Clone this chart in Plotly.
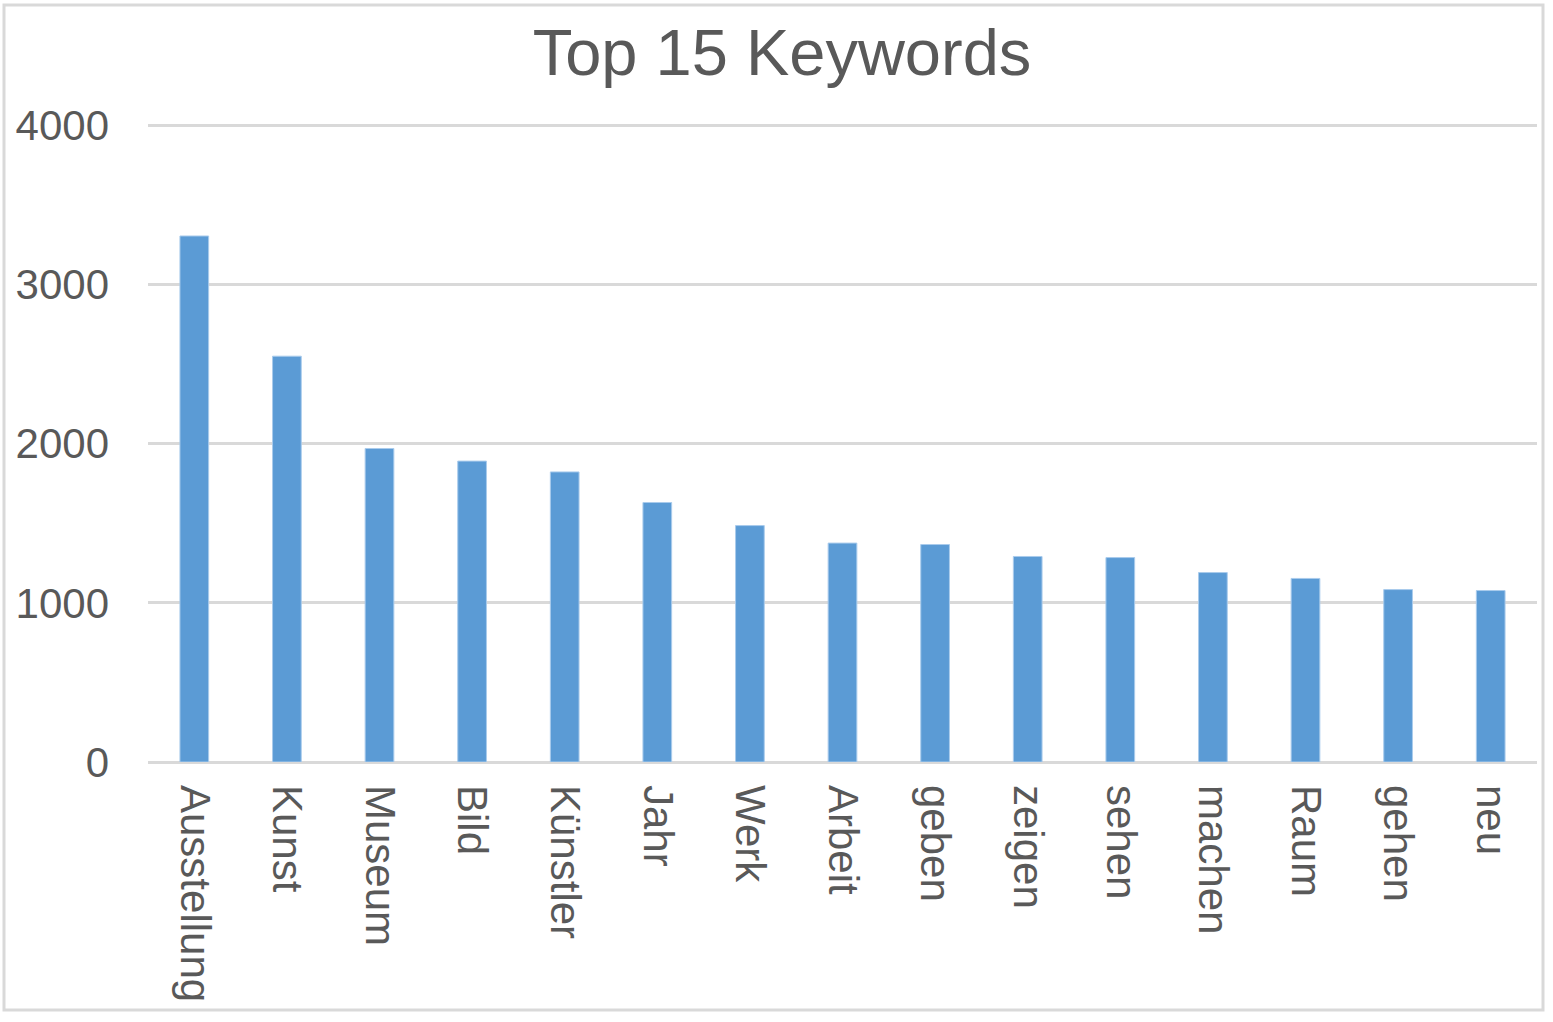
import plotly.graph_objects as go

keywords = ["Ausstellung", "Kunst", "Museum", "Bild", "Künstler", "Jahr", "Werk",
            "Arbeit", "geben", "zeigen", "sehen", "machen", "Raum", "gehen", "neu"]
counts = [3304, 2549, 1969, 1890, 1822, 1630, 1485, 1375, 1366, 1291, 1284, 1190, 1153, 1083, 1077]
y_ticks = [0, 1000, 2000, 3000, 4000]

W, H = 1553, 1022
ML, MR, MT, MB = 148, 16, 122, 260
FONT = "Liberation Sans, Arial, Helvetica, sans-serif"
GREY = "#595959"
GRID = "#d9d9d9"

fig = go.Figure(go.Bar(
    x=keywords, y=counts,
    marker=dict(color="#5b9bd5", line=dict(color="#a9cbec", width=1)),
))

pw = W - ML - MR
ph = H - MT - MB
# outer chart border (decorative frame)
bx0, bx1, by0, by1 = 4, 1543, 5, 1010
fig.add_shape(type="rect", xref="paper", yref="paper",
              x0=(bx0 - ML) / pw, x1=(bx1 - ML) / pw,
              y0=(H - MB - by1) / ph, y1=(H - MB - by0) / ph,
              line=dict(color=GRID, width=3), fillcolor="rgba(0,0,0,0)", layer="below")

fig.update_layout(
    width=W, height=H,
    margin=dict(l=ML, r=MR, t=MT, b=MB, autoexpand=False),
    paper_bgcolor="white", plot_bgcolor="white",
    bargap=0.69,
    showlegend=False,
    font=dict(family=FONT, color=GREY, size=42),
    title=dict(text="Top 15 Keywords", x=782 / W, xanchor="center",
               y=1 - 52 / H, yanchor="middle", xref="container", yref="container",
               font=dict(family=FONT, size=65, color=GREY)),
    xaxis=dict(tickangle=90, showgrid=False, showline=False, ticks="",
               tickfont=dict(family=FONT, size=42, color=GREY), ticklabelstandoff=22),
    yaxis=dict(range=[0, 4020], tickvals=y_ticks, showgrid=True, gridcolor=GRID, gridwidth=3,
               zeroline=True, zerolinecolor=GRID, zerolinewidth=3, showline=False, ticks="",
               tickfont=dict(family=FONT, size=42, color=GREY), ticklabelstandoff=38),
)

fig.write_html("out.html", config={"displayModeBar": False},
               post_script="document.body.style.margin='0';document.body.style.overflow='hidden';")
